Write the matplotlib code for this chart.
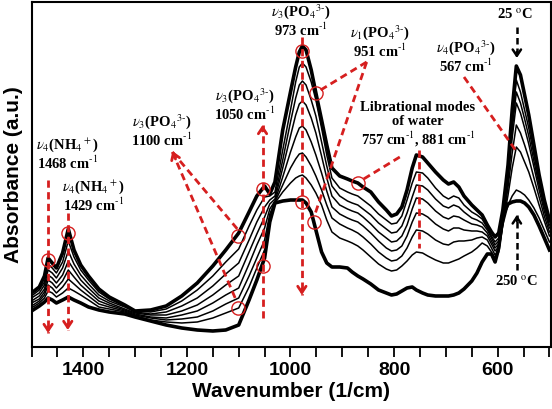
import numpy as np
import matplotlib
matplotlib.use("Agg")
from matplotlib import pyplot as plt
from matplotlib.ticker import MultipleLocator, NullLocator

plt.rcParams['mathtext.fontset'] = 'stix'

# wavenumber grid (1/cm)
wavenumber = [1500, 1485, 1475, 1468, 1460, 1452, 1440, 1429, 1418, 1405,
              1390, 1370, 1350, 1320, 1300, 1270, 1240, 1210, 1180, 1150,
              1125, 1100, 1080, 1065, 1050, 1040, 1030, 1015, 1000, 990,
              983, 977, 970, 960, 951, 940, 930, 920, 905, 890,
              881, 870, 860, 845, 830, 815, 805, 795, 785, 775,
              765, 757, 745, 735, 720, 705, 695, 685, 675, 665,
              650, 640, 630, 620, 612, 605, 598, 590, 580, 572,
              564, 556, 548, 540, 530, 520, 510, 500]

# absorbance (a.u.), 25 C at the top down to 250 C at the bottom
abs_25C = [0.54, 0.60, 0.71, 0.89, 0.84, 0.79, 0.94, 1.18, 0.97, 0.82,
           0.71, 0.58, 0.50, 0.42, 0.36, 0.37, 0.41, 0.51, 0.64, 0.81,
           0.97, 1.14, 1.35, 1.51, 1.61, 1.53, 1.65, 2.17, 2.55, 2.80,
           2.95, 3.01, 2.97, 2.77, 2.54, 2.27, 2.02, 1.79, 1.71, 1.68,
           1.66, 1.64, 1.60, 1.55, 1.45, 1.37, 1.31, 1.33, 1.40, 1.57,
           1.79, 1.92, 1.90, 1.84, 1.75, 1.67, 1.63, 1.65, 1.60, 1.51,
           1.42, 1.37, 1.32, 1.22, 1.15, 1.10, 1.14, 1.37, 1.82, 2.37,
           2.81, 2.72, 2.52, 2.32, 2.02, 1.72, 1.47, 1.27]
abs_t1 = [0.51, 0.57, 0.65, 0.83, 0.79, 0.74, 0.85, 1.06, 0.90, 0.77,
          0.67, 0.55, 0.48, 0.41, 0.36, 0.35, 0.38, 0.46, 0.57, 0.71,
          0.85, 0.98, 1.21, 1.37, 1.50, 1.51, 1.55, 1.97, 2.37, 2.65,
          2.80, 2.84, 2.80, 2.65, 2.47, 2.19, 1.92, 1.69, 1.59, 1.55,
          1.53, 1.51, 1.47, 1.41, 1.33, 1.27, 1.23, 1.24, 1.31, 1.47,
          1.64, 1.75, 1.74, 1.69, 1.59, 1.51, 1.48, 1.51, 1.49, 1.42,
          1.35, 1.32, 1.28, 1.19, 1.11, 1.05, 1.09, 1.32, 1.77, 2.25,
          2.67, 2.55, 2.37, 2.19, 1.92, 1.67, 1.44, 1.25]
abs_t2 = [0.49, 0.54, 0.62, 0.77, 0.74, 0.69, 0.79, 0.96, 0.83, 0.72,
          0.63, 0.52, 0.46, 0.40, 0.35, 0.33, 0.35, 0.41, 0.49, 0.61,
          0.73, 0.84, 1.07, 1.25, 1.40, 1.47, 1.51, 1.87, 2.25, 2.49,
          2.62, 2.66, 2.62, 2.47, 2.31, 2.05, 1.81, 1.61, 1.51, 1.46,
          1.44, 1.42, 1.38, 1.32, 1.24, 1.18, 1.14, 1.15, 1.21, 1.34,
          1.50, 1.62, 1.61, 1.57, 1.48, 1.41, 1.39, 1.42, 1.40, 1.35,
          1.29, 1.27, 1.24, 1.17, 1.09, 1.02, 1.06, 1.29, 1.72, 2.17,
          2.55, 2.44, 2.28, 2.11, 1.86, 1.62, 1.40, 1.22]
abs_t3 = [0.46, 0.51, 0.58, 0.72, 0.69, 0.64, 0.72, 0.86, 0.77, 0.67,
          0.59, 0.49, 0.44, 0.38, 0.34, 0.32, 0.32, 0.36, 0.42, 0.52,
          0.62, 0.71, 0.95, 1.13, 1.30, 1.43, 1.48, 1.79, 2.11, 2.32,
          2.43, 2.46, 2.42, 2.29, 2.14, 1.91, 1.69, 1.51, 1.42, 1.38,
          1.36, 1.34, 1.30, 1.23, 1.15, 1.09, 1.05, 1.06, 1.11, 1.22,
          1.38, 1.49, 1.48, 1.44, 1.36, 1.30, 1.28, 1.31, 1.30, 1.27,
          1.23, 1.22, 1.20, 1.14, 1.06, 0.99, 1.03, 1.26, 1.67, 2.09,
          2.44, 2.34, 2.19, 2.03, 1.80, 1.57, 1.36, 1.19]
abs_t4 = [0.44, 0.48, 0.55, 0.67, 0.64, 0.59, 0.66, 0.77, 0.70, 0.62,
          0.55, 0.46, 0.42, 0.37, 0.33, 0.30, 0.29, 0.32, 0.36, 0.44,
          0.52, 0.59, 0.83, 1.02, 1.19, 1.38, 1.46, 1.70, 1.95, 2.10,
          2.19, 2.21, 2.17, 2.05, 1.92, 1.74, 1.56, 1.40, 1.33, 1.29,
          1.27, 1.25, 1.21, 1.14, 1.06, 0.99, 0.96, 0.97, 1.01, 1.11,
          1.25, 1.34, 1.33, 1.30, 1.23, 1.18, 1.16, 1.19, 1.19, 1.17,
          1.16, 1.16, 1.15, 1.11, 1.03, 0.96, 1.00, 1.24, 1.60, 1.94,
          2.22, 2.14, 2.02, 1.89, 1.69, 1.50, 1.31, 1.15]
abs_t5 = [0.41, 0.46, 0.52, 0.62, 0.59, 0.54, 0.60, 0.68, 0.63, 0.57,
          0.51, 0.43, 0.40, 0.36, 0.32, 0.29, 0.27, 0.28, 0.30, 0.36,
          0.43, 0.49, 0.71, 0.89, 1.07, 1.33, 1.45, 1.62, 1.79, 1.88,
          1.93, 1.94, 1.90, 1.81, 1.71, 1.57, 1.42, 1.29, 1.23, 1.19,
          1.17, 1.14, 1.10, 1.03, 0.95, 0.89, 0.86, 0.87, 0.91, 0.99,
          1.10, 1.17, 1.16, 1.13, 1.07, 1.03, 1.02, 1.05, 1.06, 1.06,
          1.07, 1.09, 1.10, 1.07, 0.99, 0.92, 0.97, 1.22, 1.52, 1.79,
          2.00, 1.95, 1.85, 1.75, 1.59, 1.42, 1.26, 1.11]
abs_t6 = [0.39, 0.44, 0.49, 0.56, 0.54, 0.50, 0.54, 0.59, 0.56, 0.52,
          0.47, 0.40, 0.38, 0.35, 0.31, 0.27, 0.25, 0.24, 0.25, 0.29,
          0.34, 0.39, 0.60, 0.79, 0.97, 1.27, 1.44, 1.55, 1.64, 1.69,
          1.71, 1.72, 1.69, 1.62, 1.54, 1.42, 1.27, 1.15, 1.09, 1.06,
          1.04, 1.01, 0.97, 0.90, 0.83, 0.78, 0.76, 0.77, 0.81, 0.86,
          0.92, 0.95, 0.94, 0.91, 0.87, 0.84, 0.84, 0.86, 0.88, 0.91,
          0.95, 0.99, 1.04, 1.01, 0.95, 0.89, 0.95, 1.22, 1.42, 1.51,
          1.57, 1.55, 1.52, 1.47, 1.39, 1.29, 1.17, 1.05]
abs_250C = [0.36, 0.41, 0.45, 0.49, 0.47, 0.44, 0.47, 0.50, 0.47, 0.44,
            0.40, 0.37, 0.35, 0.33, 0.30, 0.26, 0.22, 0.19, 0.17, 0.16,
            0.17, 0.22, 0.47, 0.67, 0.89, 1.25, 1.44, 1.46, 1.47, 1.47,
            1.47, 1.47, 1.44, 1.35, 1.17, 0.95, 0.84, 0.80, 0.80, 0.79,
            0.75, 0.71, 0.68, 0.63, 0.57, 0.54, 0.52, 0.53, 0.56, 0.59,
            0.60, 0.57, 0.54, 0.52, 0.51, 0.51, 0.51, 0.52, 0.54, 0.58,
            0.66, 0.74, 0.85, 0.93, 0.93, 0.85, 0.99, 1.32, 1.43, 1.45,
            1.46, 1.46, 1.44, 1.40, 1.32, 1.21, 1.09, 0.97]

spectra = [abs_25C, abs_t1, abs_t2, abs_t3, abs_t4, abs_t5, abs_t6, abs_250C]
line_widths = [2.6, 1.1, 1.1, 1.1, 1.1, 1.1, 1.1, 2.6]

RED = '#d61f1f'
TXT = dict(family='Liberation Serif', fontweight='bold', fontsize=10.5,
           ha='center', va='center', linespacing=1.05)
PO4 = 'PO$_4$$^{3\\text{-}}$'
CM = ' cm$^{\\text{-}1}$'


def at(curve, wn):
    # absorbance of a spectrum at a wavenumber (grid runs high -> low)
    return float(np.interp(wn, wavenumber[::-1], curve[::-1]))


def dashed(ax, p0, p1, color=RED, head=False, lw=2.0):
    ax.plot([p0[0], p1[0]], [p0[1], p1[1]], color=color, lw=lw,
            ls=(0, (2.6, 1.6)), solid_capstyle='butt', zorder=4)
    if head:
        d = 0.06 if p1[1] > p0[1] else -0.06
        ax.annotate('', xy=p1, xytext=(p1[0], p1[1] - d),
                    arrowprops=dict(arrowstyle='->,head_length=0.45,head_width=0.3',
                                    color=color, lw=lw, shrinkA=0, shrinkB=0),
                    zorder=5)


def ring(ax, wn, a):
    ax.plot([wn], [a], 'o', ms=9.5, mfc='none', mec=RED, mew=1.0, zorder=5)


fig = plt.figure(figsize=(5.52, 4.09), dpi=100)
ax = fig.add_axes([0.0571, 0.1516, 0.9402, 0.8435])

for curve, w in zip(spectra, line_widths):
    ax.plot(wavenumber, curve, color='black', lw=w, zorder=3)

ax.set_xlim(1500, 498)
ax.set_ylim(0, 3.45)
ax.xaxis.set_major_locator(MultipleLocator(200))
ax.xaxis.set_minor_locator(MultipleLocator(50))
ax.yaxis.set_major_locator(NullLocator())
ax.tick_params(axis='x', which='major', direction='out', length=7, width=1.3, pad=4)
ax.tick_params(axis='x', which='minor', direction='out', length=7, width=1.3)
for lab in ax.get_xticklabels():
    lab.set_fontfamily('Liberation Sans')
    lab.set_fontweight('bold')
    lab.set_fontsize(14)
for sp in ax.spines.values():
    sp.set_linewidth(1.5)
ax.set_xlabel('Wavenumber (1/cm)', family='Liberation Sans', fontweight='bold',
              fontsize=15, labelpad=2)
ax.set_ylabel('Absorbance (a.u.)', family='Liberation Sans', fontweight='bold',
              fontsize=15, labelpad=6)

# NH4+ bands
ring(ax, 1468, at(abs_25C, 1468) - 0.02)
ring(ax, 1430, at(abs_25C, 1430) - 0.02)
dashed(ax, (1468, 1.67), (1468, 0.14), head=True)
dashed(ax, (1430, 1.34), (1430, 0.17), head=True)
ax.text(1430, 1.93, '$\\nu_4$(NH$_4$$^+$)\n1468' + CM, **TXT)
ax.text(1381, 1.51, '$\\nu_4$(NH$_4$$^+$)\n1429' + CM, **TXT)

# 1100 band
ring(ax, 1102, at(abs_25C, 1102) - 0.02)
ring(ax, 1102, at(abs_t6, 1102))
dashed(ax, (1228, 1.95), (1102, at(abs_25C, 1102) + 0.05))
dashed(ax, (1228, 1.95), (1104, at(abs_t6, 1102) + 0.07))
ax.annotate('', xy=(1228, 1.96), xytext=(1222, 1.88),
            arrowprops=dict(arrowstyle='->,head_length=0.45,head_width=0.3',
                            color=RED, lw=2.0, shrinkA=0, shrinkB=0))
ax.text(1248, 2.16, '$\\nu_3$(' + PO4 + ')\n1100' + CM, **TXT)

# 1050 band
ring(ax, 1054, at(abs_25C, 1054))
ring(ax, 1054, at(abs_250C, 1054) - 0.02)
dashed(ax, (1054, 0.29), (1054, 2.22), head=True)
ax.text(1088, 2.42, '$\\nu_3$(' + PO4 + ')\n1050' + CM, **TXT)

# 973 band
ring(ax, 978, at(abs_25C, 978) - 0.04)
ring(ax, 978, at(abs_250C, 978) - 0.02)
dashed(ax, (978, 3.10), (978, 0.52), head=True)
ax.text(980, 3.26, '$\\nu_3$(' + PO4 + ')\n973' + CM, **TXT)

# 951 band
ring(ax, 951, at(abs_25C, 951))
ring(ax, 955, at(abs_250C, 955))
dashed(ax, (853, 2.85), (945, at(abs_25C, 951) + 0.02))
dashed(ax, (853, 2.85), (952, at(abs_250C, 955) + 0.09))
ax.text(827, 3.055, '$\\nu_1$(' + PO4 + ')\n951' + CM, **TXT)

# librational modes of water
ring(ax, 869, at(abs_25C, 869))
dashed(ax, (789, 1.90), (860, at(abs_25C, 869) + 0.04))
dashed(ax, (752, 1.97), (752, 0.99))
ax.text(754, 2.22, 'Librational modes\nof water\n757' + CM + ', 881' + CM,
        **dict(TXT, linespacing=1.1))

# 567 band
dashed(ax, (665, 2.70), (563, 1.95))
ax.text(661, 2.90, '$\\nu_4$(' + PO4 + ')\n567' + CM, **TXT)

# temperature arrows
dashed(ax, (563, 3.20), (563, 2.89), color='black', head=True, lw=1.8)
dashed(ax, (563, 0.77), (563, 1.32), color='black', head=True, lw=1.8)
ax.text(567, 3.32, '25 $^{\\rm o}$C', **TXT)
ax.text(563, 0.65, '250 $^{\\rm o}$C', **TXT)

fig.savefig('out.png', dpi=100)
